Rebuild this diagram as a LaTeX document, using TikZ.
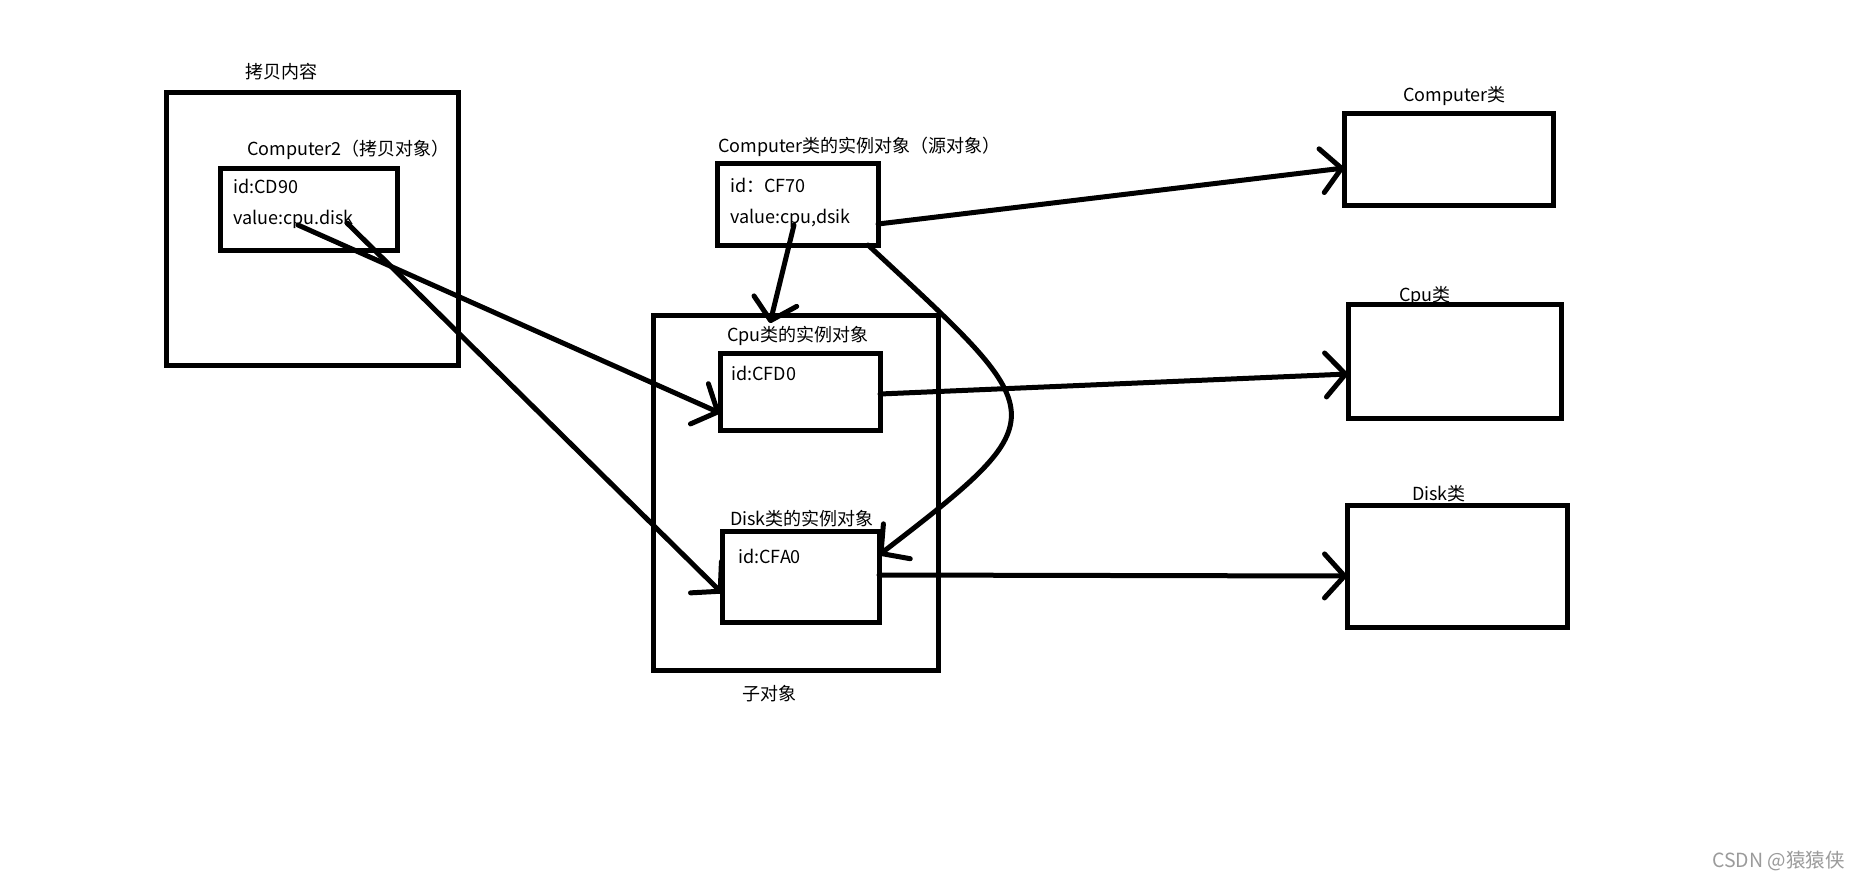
\documentclass[tikz,border=0pt]{standalone}
\usepackage{fontspec}
\setmainfont{Noto Sans CJK SC}
\usetikzlibrary{arrows.meta}
\definecolor{wmgray}{RGB}{155,155,155}
\begin{document}
\begin{tikzpicture}[x=1pt,y=-1pt,
  box/.style args={#1x#2}{draw, line width=5pt, inner sep=0pt, outer sep=0pt, minimum width=#1pt, minimum height=#2pt},
  lbl/.style={anchor=base west, inner sep=0pt, font=\fontsize{18}{22}\selectfont},
  conn/.style={line width=5pt, line cap=round, -{Straight Barb[length=20pt,width=44pt,round]}}
]
\useasboundingbox[fill=white] (0,0) rectangle (1861,883);

% boxes
\node[box=292x273] (copyout) at (312,228.5) {};
\node[box=177x82] (comp2) at (308.5,209) {};
\node[box=161x82] (compinst) at (797.5,204) {};
\node[box=285x355] (child) at (795.5,492.5) {};
\node[box=160x77] (cpuinst) at (800,391.5) {};
\node[box=157x91] (diskinst) at (800.5,576.5) {};
\node[box=209x92] (compcls) at (1448.5,159) {};
\node[box=213x114] (cpucls) at (1454.5,361) {};
\node[box=220x122] (diskcls) at (1457,566) {};

% labels
\node[lbl] (tcopy) at (245,78) {拷贝内容};
\node[lbl] (tcomp2) at (247,155) {Computer2（拷贝对象）};
\node[lbl] (tcd90) at (233,193) {id:CD90};
\node[lbl] (tval2) at (233,224) {value:cpu.disk};
\node[lbl] (tcompinst) at (718,152) {Computer类的实例对象（源对象）};
\node[lbl] (tcf70) at (730,192) {id：CF70};
\node[lbl] (tval) at (730,223) {value:cpu,dsik};
\node[lbl] (tcpuinst) at (727,341) {Cpu类的实例对象};
\node[lbl] (tcfd0) at (731,380) {id:CFD0};
\node[lbl] (tdiskinst) at (730,525) {Disk类的实例对象};
\node[lbl] (tcfa0) at (738,563) {id:CFA0};
\node[lbl] (tchild) at (742,700) {子对象};
\node[lbl] (tcompcls) at (1403,102) {Computer类};
\node[lbl] (tcpucls) at (1399,301) {Cpu类};
\node[lbl] (tdiskcls) at (1412,500) {Disk类};
\node[lbl, text=wmgray, font=\fontsize{19.5}{22}\selectfont] (wm) at (1712,867) {CSDN @猿猿侠};

% connector start points
\coordinate (s1) at (298,225);
\coordinate (s2) at (347,223);
\coordinate (s3) at (794,225);
\coordinate (cputop) at (770,323);

% connectors
\draw[conn] (s1) -- ([yshift=-21.5pt]cpuinst.west);
\draw[conn] (s2) -- ([yshift=-16.5pt]diskinst.west);
\draw[conn] (s3) -- (cputop);
\draw[conn] ([yshift=-20pt]compinst.east) -- ([yshift=-9pt]compcls.west);
\draw[conn] ([xshift=-10pt]compinst.south east) .. controls (1052,416) and (1061,415) .. ([yshift=21.5pt]diskinst.east);
\draw[conn] ([yshift=-2.5pt]cpuinst.east) -- ([yshift=-13pt]cpucls.west);
\draw[conn] ([yshift=1.5pt]diskinst.east) -- ([yshift=-10pt]diskcls.west);
\end{tikzpicture}
\end{document}
